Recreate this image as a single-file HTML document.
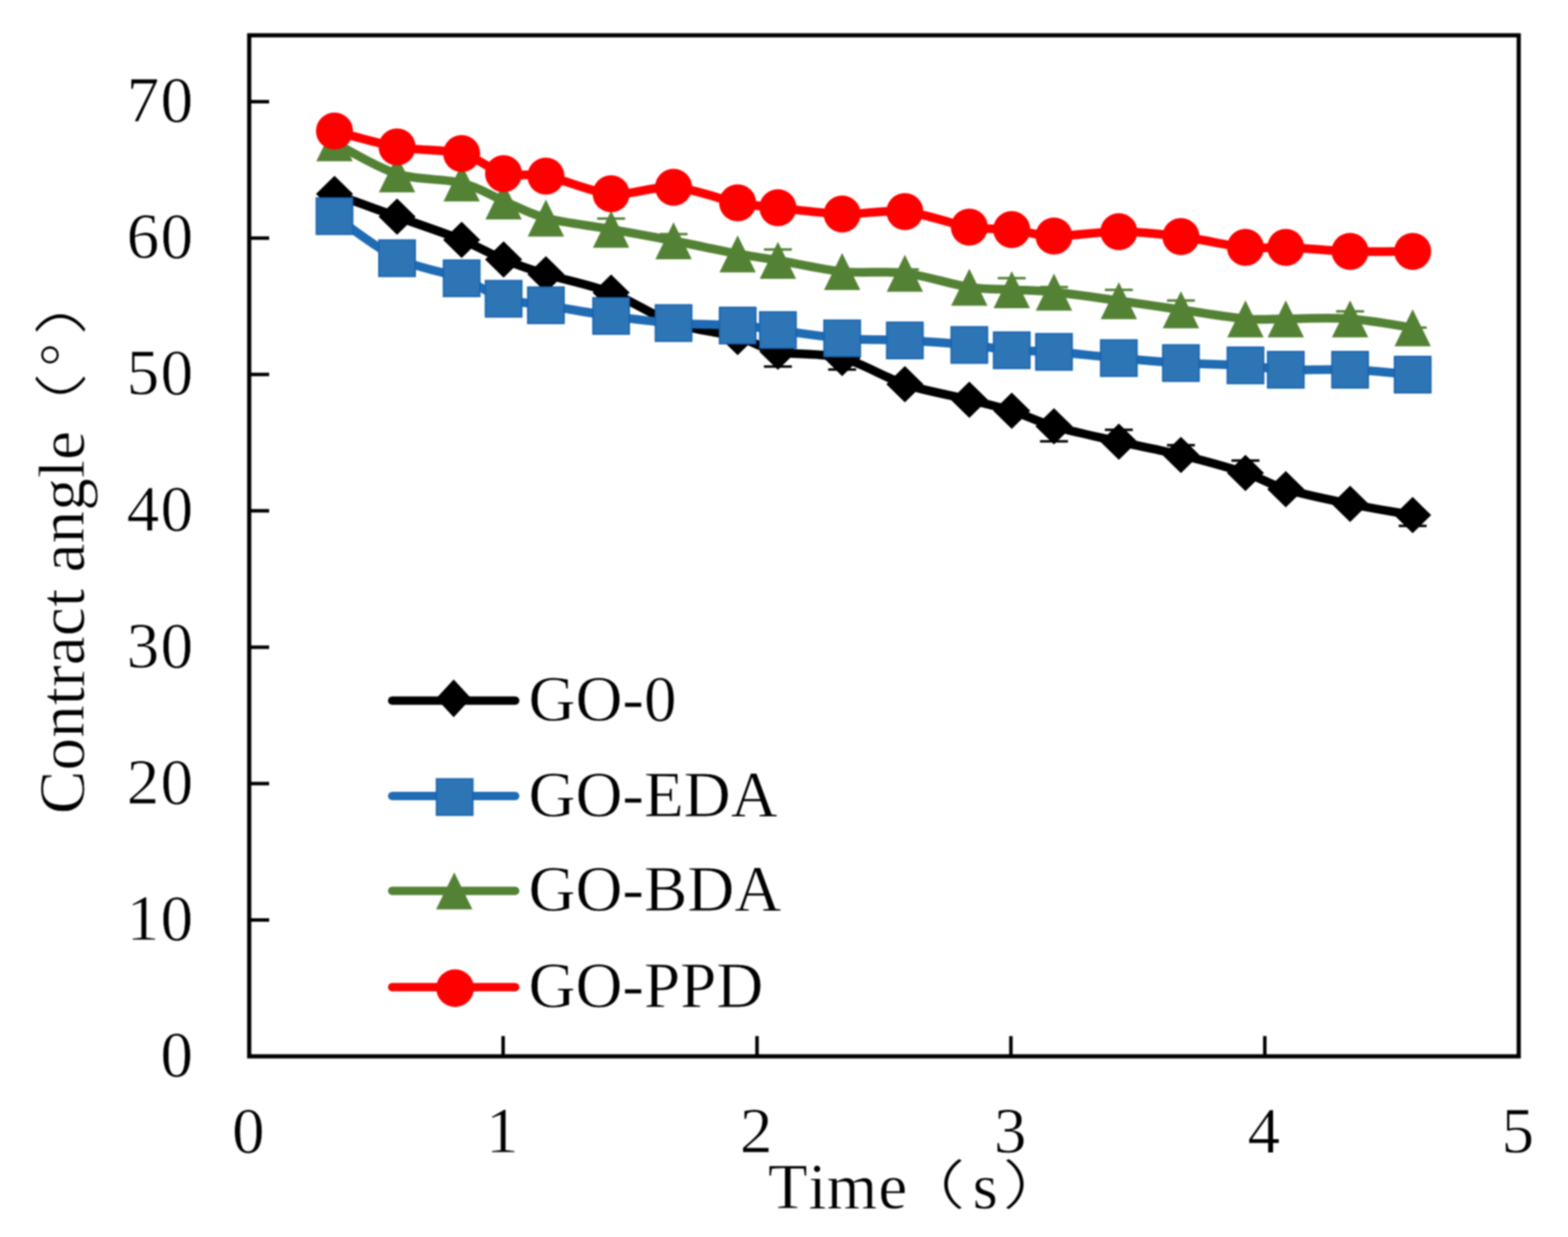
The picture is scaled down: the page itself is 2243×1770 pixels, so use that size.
<!DOCTYPE html>
<html><head><meta charset="utf-8"><title>Contract angle vs Time</title>
<style>
html,body{margin:0;padding:0;background:#fff;}
body{width:2243px;height:1770px;overflow:hidden;}
svg{display:block;filter:blur(0.8px);}
.t{font-family:"Liberation Serif","Noto Serif CJK SC",serif;font-size:93px;fill:#000;stroke:#fff;stroke-width:0.8px;}
.p{font-family:"Noto Sans CJK SC","Liberation Serif",sans-serif;font-weight:300;font-size:75.5px;fill:#000;}
.cjk2{font-family:"Noto Serif CJK SC","Liberation Serif",serif;font-size:93px;fill:#000;}
</style></head>
<body>
<svg width="2243" height="1770" viewBox="0 0 2243 1770">
<rect width="2243" height="1770" fill="#fff"/>
<rect x="356.5" y="50.5" width="1816" height="1461" fill="none" stroke="#000" stroke-width="6"/>
<text x="229.6" y="1540.0" class="t">0</text>
<line x1="356.5" y1="1316.4" x2="385" y2="1316.4" stroke="#000" stroke-width="5"/>
<text x="181.3 229.8" y="1344.9" class="t">10</text>
<line x1="356.5" y1="1121.2" x2="385" y2="1121.2" stroke="#000" stroke-width="5"/>
<text x="181.3 229.8" y="1149.7" class="t">20</text>
<line x1="356.5" y1="926.1" x2="385" y2="926.1" stroke="#000" stroke-width="5"/>
<text x="181.3 229.8" y="954.6" class="t">30</text>
<line x1="356.5" y1="730.9" x2="385" y2="730.9" stroke="#000" stroke-width="5"/>
<text x="181.3 229.8" y="759.4" class="t">40</text>
<line x1="356.5" y1="535.8" x2="385" y2="535.8" stroke="#000" stroke-width="5"/>
<text x="181.3 229.8" y="564.3" class="t">50</text>
<line x1="356.5" y1="340.7" x2="385" y2="340.7" stroke="#000" stroke-width="5"/>
<text x="181.3 229.8" y="369.2" class="t">60</text>
<line x1="356.5" y1="145.5" x2="385" y2="145.5" stroke="#000" stroke-width="5"/>
<text x="181.3 229.8" y="174.0" class="t">70</text>
<text x="355.3" y="1649" text-anchor="middle" class="t">0</text>
<line x1="719.7" y1="1511.5" x2="719.7" y2="1482.5" stroke="#000" stroke-width="5"/>
<text x="718.5" y="1649" text-anchor="middle" class="t">1</text>
<line x1="1082.9" y1="1511.5" x2="1082.9" y2="1482.5" stroke="#000" stroke-width="5"/>
<text x="1081.7" y="1649" text-anchor="middle" class="t">2</text>
<line x1="1446.1" y1="1511.5" x2="1446.1" y2="1482.5" stroke="#000" stroke-width="5"/>
<text x="1444.9" y="1649" text-anchor="middle" class="t">3</text>
<line x1="1809.3" y1="1511.5" x2="1809.3" y2="1482.5" stroke="#000" stroke-width="5"/>
<text x="1808.1" y="1649" text-anchor="middle" class="t">4</text>
<text x="2171.3" y="1649" text-anchor="middle" class="t">5</text>
<path d="M478.5,277.6 C493.4,283.0 537.7,299.1 568.0,310.0 C598.3,320.9 635.0,333.0 660.4,343.2 C685.8,353.4 700.3,363.1 720.4,371.3 C740.5,379.5 755.3,384.5 780.9,392.4 C806.5,400.3 843.8,407.2 874.2,418.8 C904.6,430.4 933.3,451.4 963.5,462.0 C993.7,472.6 1030.3,475.3 1055.2,482.2 C1080.1,489.1 1087.9,498.3 1112.8,503.3 C1137.7,508.3 1174.4,504.5 1204.7,512.3 C1235.0,520.0 1264.1,539.8 1294.4,549.8 C1324.7,559.8 1361.1,565.7 1386.6,572.0 C1412.1,578.3 1427.1,581.5 1447.3,587.8 C1467.5,594.1 1482.2,602.6 1507.7,610.0 C1533.2,617.4 1570.2,625.1 1600.5,631.9 C1630.8,638.7 1659.1,643.5 1689.3,651.0 C1719.5,658.5 1756.6,668.6 1781.6,676.7 C1806.6,684.9 1814.3,692.5 1839.3,699.9 C1864.2,707.3 1901.0,714.8 1931.3,721.0 C1961.5,727.2 2005.9,734.4 2020.8,737.1" fill="none" stroke="#000000" stroke-width="12.5" stroke-linejoin="round" stroke-linecap="round"/>
<path d="M1112.8,503.3 V524.4 M1092.8,524.4 H1132.8" stroke="#000000" stroke-width="3.5" fill="none"/>
<path d="M1204.7,512.3 V528.7 M1184.7,528.7 H1224.7" stroke="#000000" stroke-width="3.5" fill="none"/>
<path d="M1507.7,610.0 V631.5 M1487.7,631.5 H1527.7" stroke="#000000" stroke-width="3.5" fill="none"/>
<path d="M1600.5,631.9 V614.9 M1580.5,614.9 H1620.5" stroke="#000000" stroke-width="3.5" fill="none"/>
<path d="M1689.3,651.0 V637.0 M1669.3,637.0 H1709.3" stroke="#000000" stroke-width="3.5" fill="none"/>
<path d="M1781.6,676.7 V659.0 M1761.6,659.0 H1801.6" stroke="#000000" stroke-width="3.5" fill="none"/>
<path d="M2020.8,737.1 V752.6 M2000.8,752.6 H2040.8" stroke="#000000" stroke-width="3.5" fill="none"/>
<path d="M478.5,251.6 L505.0,277.6 L478.5,303.6 L452.0,277.6Z" fill="#000000"/>
<path d="M568.0,284.0 L594.5,310.0 L568.0,336.0 L541.5,310.0Z" fill="#000000"/>
<path d="M660.4,317.2 L686.9,343.2 L660.4,369.2 L633.9,343.2Z" fill="#000000"/>
<path d="M720.4,345.3 L746.9,371.3 L720.4,397.3 L693.9,371.3Z" fill="#000000"/>
<path d="M780.9,366.4 L807.4,392.4 L780.9,418.4 L754.4,392.4Z" fill="#000000"/>
<path d="M874.2,392.8 L900.7,418.8 L874.2,444.8 L847.7,418.8Z" fill="#000000"/>
<path d="M963.5,436.0 L990.0,462.0 L963.5,488.0 L937.0,462.0Z" fill="#000000"/>
<path d="M1055.2,456.2 L1081.7,482.2 L1055.2,508.2 L1028.7,482.2Z" fill="#000000"/>
<path d="M1112.8,477.3 L1139.3,503.3 L1112.8,529.3 L1086.3,503.3Z" fill="#000000"/>
<path d="M1204.7,486.3 L1231.2,512.3 L1204.7,538.3 L1178.2,512.3Z" fill="#000000"/>
<path d="M1294.4,523.8 L1320.9,549.8 L1294.4,575.8 L1267.9,549.8Z" fill="#000000"/>
<path d="M1386.6,546.0 L1413.1,572.0 L1386.6,598.0 L1360.1,572.0Z" fill="#000000"/>
<path d="M1447.3,561.8 L1473.8,587.8 L1447.3,613.8 L1420.8,587.8Z" fill="#000000"/>
<path d="M1507.7,584.0 L1534.2,610.0 L1507.7,636.0 L1481.2,610.0Z" fill="#000000"/>
<path d="M1600.5,605.9 L1627.0,631.9 L1600.5,657.9 L1574.0,631.9Z" fill="#000000"/>
<path d="M1689.3,625.0 L1715.8,651.0 L1689.3,677.0 L1662.8,651.0Z" fill="#000000"/>
<path d="M1781.6,650.7 L1808.1,676.7 L1781.6,702.7 L1755.1,676.7Z" fill="#000000"/>
<path d="M1839.3,673.9 L1865.8,699.9 L1839.3,725.9 L1812.8,699.9Z" fill="#000000"/>
<path d="M1931.3,695.0 L1957.8,721.0 L1931.3,747.0 L1904.8,721.0Z" fill="#000000"/>
<path d="M2020.8,711.1 L2047.3,737.1 L2020.8,763.1 L1994.3,737.1Z" fill="#000000"/>
<path d="M478.5,309.3 C493.4,319.3 537.7,354.7 568.0,369.5 C598.3,384.3 635.0,388.5 660.4,398.2 C685.8,407.9 700.3,421.1 720.4,427.5 C740.5,433.9 755.3,432.7 780.9,436.8 C806.5,440.9 843.8,447.9 874.2,452.1 C904.6,456.4 933.3,460.0 963.5,462.3 C993.7,464.6 1030.3,464.1 1055.2,465.8 C1080.1,467.5 1087.9,469.2 1112.8,472.3 C1137.7,475.4 1174.4,481.7 1204.7,484.2 C1235.0,486.7 1264.1,485.5 1294.4,487.1 C1324.7,488.7 1361.1,491.2 1386.6,493.6 C1412.1,496.0 1427.1,499.6 1447.3,501.2 C1467.5,502.8 1482.2,501.6 1507.7,503.5 C1533.2,505.4 1570.2,509.7 1600.5,512.4 C1630.8,515.1 1659.1,517.8 1689.3,519.5 C1719.5,521.2 1756.6,521.2 1781.6,522.8 C1806.6,524.4 1814.3,528.0 1839.3,529.1 C1864.2,530.2 1901.0,527.9 1931.3,529.1 C1961.5,530.3 2005.9,534.9 2020.8,536.1" fill="none" stroke="#1f6bb4" stroke-width="12.5" stroke-linejoin="round" stroke-linecap="round"/>
<rect x="452.5" y="283.3" width="52" height="52" fill="#2e75b6" stroke="#1662b0" stroke-width="2"/>
<rect x="542.0" y="343.5" width="52" height="52" fill="#2e75b6" stroke="#1662b0" stroke-width="2"/>
<rect x="634.4" y="372.2" width="52" height="52" fill="#2e75b6" stroke="#1662b0" stroke-width="2"/>
<rect x="694.4" y="401.5" width="52" height="52" fill="#2e75b6" stroke="#1662b0" stroke-width="2"/>
<rect x="754.9" y="410.8" width="52" height="52" fill="#2e75b6" stroke="#1662b0" stroke-width="2"/>
<rect x="848.2" y="426.1" width="52" height="52" fill="#2e75b6" stroke="#1662b0" stroke-width="2"/>
<rect x="937.5" y="436.3" width="52" height="52" fill="#2e75b6" stroke="#1662b0" stroke-width="2"/>
<rect x="1029.2" y="439.8" width="52" height="52" fill="#2e75b6" stroke="#1662b0" stroke-width="2"/>
<rect x="1086.8" y="446.3" width="52" height="52" fill="#2e75b6" stroke="#1662b0" stroke-width="2"/>
<rect x="1178.7" y="458.2" width="52" height="52" fill="#2e75b6" stroke="#1662b0" stroke-width="2"/>
<rect x="1268.4" y="461.1" width="52" height="52" fill="#2e75b6" stroke="#1662b0" stroke-width="2"/>
<rect x="1360.6" y="467.6" width="52" height="52" fill="#2e75b6" stroke="#1662b0" stroke-width="2"/>
<rect x="1421.3" y="475.2" width="52" height="52" fill="#2e75b6" stroke="#1662b0" stroke-width="2"/>
<rect x="1481.7" y="477.5" width="52" height="52" fill="#2e75b6" stroke="#1662b0" stroke-width="2"/>
<rect x="1574.5" y="486.4" width="52" height="52" fill="#2e75b6" stroke="#1662b0" stroke-width="2"/>
<rect x="1663.3" y="493.5" width="52" height="52" fill="#2e75b6" stroke="#1662b0" stroke-width="2"/>
<rect x="1755.6" y="496.8" width="52" height="52" fill="#2e75b6" stroke="#1662b0" stroke-width="2"/>
<rect x="1813.3" y="503.1" width="52" height="52" fill="#2e75b6" stroke="#1662b0" stroke-width="2"/>
<rect x="1905.3" y="503.1" width="52" height="52" fill="#2e75b6" stroke="#1662b0" stroke-width="2"/>
<rect x="1994.8" y="510.1" width="52" height="52" fill="#2e75b6" stroke="#1662b0" stroke-width="2"/>
<path d="M478.5,204.3 C493.4,211.7 537.7,239.2 568.0,248.8 C598.3,258.4 635.0,255.3 660.4,261.7 C685.8,268.1 700.3,279.0 720.4,287.4 C740.5,295.8 755.3,305.2 780.9,312.0 C806.5,318.8 843.8,322.7 874.2,328.1 C904.6,333.5 933.3,338.6 963.5,344.5 C993.7,350.4 1030.3,358.5 1055.2,363.2 C1080.1,367.9 1087.9,368.3 1112.8,372.5 C1137.7,376.7 1174.4,385.5 1204.7,388.6 C1235.0,391.7 1264.1,387.2 1294.4,390.9 C1324.7,394.6 1361.1,407.0 1386.6,410.9 C1412.1,414.8 1427.1,413.2 1447.3,414.4 C1467.5,415.6 1482.2,415.2 1507.7,417.9 C1533.2,420.5 1570.2,426.1 1600.5,430.3 C1630.8,434.5 1659.1,438.9 1689.3,443.2 C1719.5,447.5 1756.6,454.0 1781.6,456.2 C1806.6,458.4 1814.3,456.2 1839.3,456.2 C1864.2,456.2 1901.0,454.1 1931.3,456.2 C1961.5,458.3 2005.9,466.8 2020.8,468.9" fill="none" stroke="#548235" stroke-width="12.5" stroke-linejoin="round" stroke-linecap="round"/>
<path d="M874.2,328.1 V312.7 M854.2,312.7 H894.2" stroke="#548235" stroke-width="3.5" fill="none"/>
<path d="M963.5,344.5 V335.0 M943.5,335.0 H983.5" stroke="#548235" stroke-width="3.5" fill="none"/>
<path d="M1112.8,372.5 V357.0 M1092.8,357.0 H1132.8" stroke="#548235" stroke-width="3.5" fill="none"/>
<path d="M1294.4,390.9 V385.4 M1274.4,385.4 H1314.4" stroke="#548235" stroke-width="3.5" fill="none"/>
<path d="M1447.3,414.4 V398.0 M1427.3,398.0 H1467.3" stroke="#548235" stroke-width="3.5" fill="none"/>
<path d="M1507.7,417.9 V410.7 M1487.7,410.7 H1527.7" stroke="#548235" stroke-width="3.5" fill="none"/>
<path d="M1600.5,430.3 V414.7 M1580.5,414.7 H1620.5" stroke="#548235" stroke-width="3.5" fill="none"/>
<path d="M1689.3,443.2 V430.0 M1669.3,430.0 H1709.3" stroke="#548235" stroke-width="3.5" fill="none"/>
<path d="M1931.3,456.2 V445.6 M1911.3,445.6 H1951.3" stroke="#548235" stroke-width="3.5" fill="none"/>
<path d="M2020.8,468.9 V468.7 M2000.8,468.7 H2040.8" stroke="#548235" stroke-width="3.5" fill="none"/>
<path d="M478.5,177.8 L504.5,230.8 L452.5,230.8Z" fill="#548235"/>
<path d="M568.0,222.3 L594.0,275.3 L542.0,275.3Z" fill="#548235"/>
<path d="M660.4,235.2 L686.4,288.2 L634.4,288.2Z" fill="#548235"/>
<path d="M720.4,260.9 L746.4,313.9 L694.4,313.9Z" fill="#548235"/>
<path d="M780.9,285.5 L806.9,338.5 L754.9,338.5Z" fill="#548235"/>
<path d="M874.2,301.6 L900.2,354.6 L848.2,354.6Z" fill="#548235"/>
<path d="M963.5,318.0 L989.5,371.0 L937.5,371.0Z" fill="#548235"/>
<path d="M1055.2,336.7 L1081.2,389.7 L1029.2,389.7Z" fill="#548235"/>
<path d="M1112.8,346.0 L1138.8,399.0 L1086.8,399.0Z" fill="#548235"/>
<path d="M1204.7,362.1 L1230.7,415.1 L1178.7,415.1Z" fill="#548235"/>
<path d="M1294.4,364.4 L1320.4,417.4 L1268.4,417.4Z" fill="#548235"/>
<path d="M1386.6,384.4 L1412.6,437.4 L1360.6,437.4Z" fill="#548235"/>
<path d="M1447.3,387.9 L1473.3,440.9 L1421.3,440.9Z" fill="#548235"/>
<path d="M1507.7,391.4 L1533.7,444.4 L1481.7,444.4Z" fill="#548235"/>
<path d="M1600.5,403.8 L1626.5,456.8 L1574.5,456.8Z" fill="#548235"/>
<path d="M1689.3,416.7 L1715.3,469.7 L1663.3,469.7Z" fill="#548235"/>
<path d="M1781.6,429.7 L1807.6,482.7 L1755.6,482.7Z" fill="#548235"/>
<path d="M1839.3,429.7 L1865.3,482.7 L1813.3,482.7Z" fill="#548235"/>
<path d="M1931.3,429.7 L1957.3,482.7 L1905.3,482.7Z" fill="#548235"/>
<path d="M2020.8,442.4 L2046.8,495.4 L1994.8,495.4Z" fill="#548235"/>
<path d="M478.5,187.5 C493.4,191.3 537.7,204.9 568.0,210.3 C598.3,215.7 635.0,213.3 660.4,219.7 C685.8,226.0 700.3,243.0 720.4,248.4 C740.5,253.8 755.3,247.1 780.9,251.9 C806.5,256.7 843.8,274.6 874.2,277.3 C904.6,280.0 933.3,265.8 963.5,267.9 C993.7,270.0 1030.3,285.3 1055.2,290.2 C1080.1,295.1 1087.9,294.5 1112.8,297.2 C1137.7,299.9 1174.4,305.3 1204.7,306.2 C1235.0,307.1 1264.1,299.6 1294.4,302.7 C1324.7,305.8 1361.1,320.6 1386.6,324.9 C1412.1,329.2 1427.1,326.4 1447.3,328.5 C1467.5,330.6 1482.2,337.3 1507.7,337.8 C1533.2,338.3 1570.2,331.4 1600.5,331.5 C1630.8,331.6 1659.1,334.7 1689.3,338.5 C1719.5,342.3 1756.6,351.5 1781.6,354.1 C1806.6,356.7 1814.3,353.2 1839.3,354.1 C1864.2,355.0 1901.0,358.8 1931.3,359.7 C1961.5,360.6 2005.9,359.7 2020.8,359.7" fill="none" stroke="#ff0000" stroke-width="12.5" stroke-linejoin="round" stroke-linecap="round"/>
<circle cx="478.5" cy="187.5" r="26.5" fill="#ff0000"/>
<circle cx="568.0" cy="210.3" r="26.5" fill="#ff0000"/>
<circle cx="660.4" cy="219.7" r="26.5" fill="#ff0000"/>
<circle cx="720.4" cy="248.4" r="26.5" fill="#ff0000"/>
<circle cx="780.9" cy="251.9" r="26.5" fill="#ff0000"/>
<circle cx="874.2" cy="277.3" r="26.5" fill="#ff0000"/>
<circle cx="963.5" cy="267.9" r="26.5" fill="#ff0000"/>
<circle cx="1055.2" cy="290.2" r="26.5" fill="#ff0000"/>
<circle cx="1112.8" cy="297.2" r="26.5" fill="#ff0000"/>
<circle cx="1204.7" cy="306.2" r="26.5" fill="#ff0000"/>
<circle cx="1294.4" cy="302.7" r="26.5" fill="#ff0000"/>
<circle cx="1386.6" cy="324.9" r="26.5" fill="#ff0000"/>
<circle cx="1447.3" cy="328.5" r="26.5" fill="#ff0000"/>
<circle cx="1507.7" cy="337.8" r="26.5" fill="#ff0000"/>
<circle cx="1600.5" cy="331.5" r="26.5" fill="#ff0000"/>
<circle cx="1689.3" cy="338.5" r="26.5" fill="#ff0000"/>
<circle cx="1781.6" cy="354.1" r="26.5" fill="#ff0000"/>
<circle cx="1839.3" cy="354.1" r="26.5" fill="#ff0000"/>
<circle cx="1931.3" cy="359.7" r="26.5" fill="#ff0000"/>
<circle cx="2020.8" cy="359.7" r="26.5" fill="#ff0000"/>
<line x1="561" y1="1002.6" x2="737" y2="1002.6" stroke="#000000" stroke-width="12" stroke-linecap="round"/>
<path d="M649.0,972.3 L674.0,999.3 L649.0,1026.3 L624.0,999.3Z" fill="#000000"/>
<text x="756" y="1031.1" class="t">GO-0</text>
<line x1="561" y1="1139.0" x2="737" y2="1139.0" stroke="#1f6bb4" stroke-width="12" stroke-linecap="round"/>
<rect x="624.4" y="1114.5" width="52" height="52" fill="#2e75b6" stroke="#1662b0" stroke-width="2"/>
<text x="756" y="1167.5" class="t">GO-EDA</text>
<line x1="561" y1="1274.8" x2="737" y2="1274.8" stroke="#548235" stroke-width="12" stroke-linecap="round"/>
<path d="M649.8,1248.2 L675.8,1301.2 L623.8,1301.2Z" fill="#548235"/>
<text x="756" y="1303.3" class="t">GO-BDA</text>
<line x1="561" y1="1412.4" x2="737" y2="1412.4" stroke="#ff0000" stroke-width="12" stroke-linecap="round"/>
<circle cx="651.0" cy="1413.9" r="27" fill="#ff0000"/>
<text x="756" y="1440.9" class="t">GO-PPD</text>
<text x="1098.4 1156.5 1182.4 1256.6" y="1728.5" class="t">Time</text>
<text transform="translate(1363.3,1722.9) scale(1.39,1)" x="-63.0" y="0" class="p">（</text>
<text x="1391.2" y="1728.5" class="t">s</text>
<text transform="translate(1452.3,1722.9) scale(1.39,1)" x="-13.0" y="0" class="p">）</text>
<g transform="translate(120.3,1164.7) rotate(-90)"><text x="0" y="0" class="t" textLength="548" lengthAdjust="spacing">Contract angle</text><text transform="translate(613.7,-5.6) scale(1.39,1)" x="-63.0" y="0" class="p">（</text><text x="641" y="7.6" class="cjk2">°</text><text transform="translate(703.0,-5.6) scale(1.39,1)" x="-13.0" y="0" class="p">）</text></g>
</svg>
</body></html>
